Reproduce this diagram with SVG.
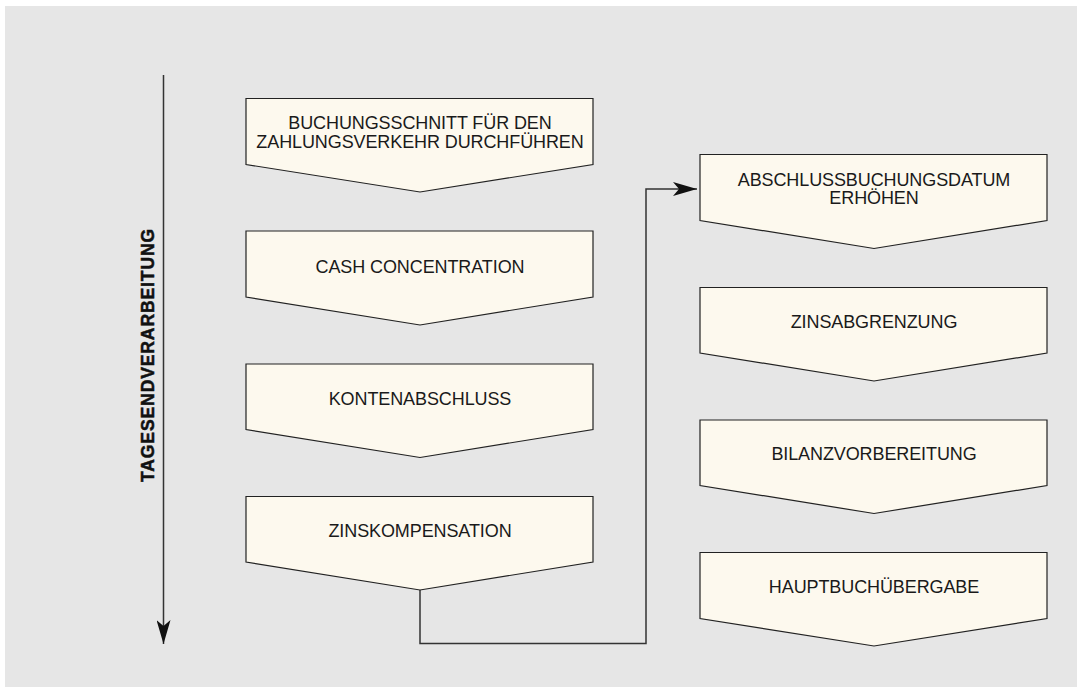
<svg xmlns="http://www.w3.org/2000/svg" width="1077" height="687" viewBox="0 0 1077 687">
  <style>
    .step { fill: #fdf9ee; stroke: #222; stroke-width: 1.2; stroke-linejoin: miter; }
    .label { font-family: "Liberation Sans", Arial, sans-serif; font-size: 18px; letter-spacing: -0.1px; fill: #1a1a1a; text-anchor: middle; }
    .wire { fill: none; stroke: #333; stroke-width: 1.5; }
    .axis-title { font-family: "Liberation Sans", Arial, sans-serif; font-weight: bold; font-size: 17.5px; letter-spacing: 0.9px; fill: #111; stroke: #111; stroke-width: 0.5; text-anchor: middle; }
  </style>
  <defs>
    <marker id="headBig" markerWidth="24" markerHeight="14" refX="24" refY="7" orient="auto" markerUnits="userSpaceOnUse">
      <path d="M0,0 L24,7 L0,14 L6,7 Z" fill="#111"/>
    </marker>
  </defs>

  <!-- panel -->
  <rect x="0" y="0" width="1077" height="687" fill="#ffffff"/>
  <rect x="5" y="6" width="1072" height="681" fill="#e6e6e6"/>

  <!-- time axis -->
  <g id="axis">
    <line x1="163.5" y1="75" x2="163.5" y2="644" stroke="#333" stroke-width="1.5" marker-end="url(#headBig)"/>
    <text class="axis-title" transform="translate(154 355) rotate(-90)">TAGESENDVERARBEITUNG</text>
  </g>

  <!-- connectors -->
  <g id="connectors">
    <path class="wire" d="M420 590 V643.5 H646 V189 H697" marker-end="url(#headBig)"/>
  </g>

  <!-- left column -->
  <g id="node-buchungsschnitt">
    <path class="step" d="M246 98.5 H593 V164.5 L420 192 L246 164.5 Z"/>
    <text class="label" x="420" y="128.5">BUCHUNGSSCHNITT FÜR DEN</text>
    <text class="label" x="420" y="147.5">ZAHLUNGSVERKEHR DURCHFÜHREN</text>
  </g>
  <g id="node-cash-concentration">
    <path class="step" d="M246 231 H593 V297 L420 325 L246 297 Z"/>
    <text class="label" x="420" y="272.5">CASH CONCENTRATION</text>
  </g>
  <g id="node-kontenabschluss">
    <path class="step" d="M246 364 H593 V429.5 L420 457.5 L246 429.5 Z"/>
    <text class="label" x="420" y="404.5">KONTENABSCHLUSS</text>
  </g>
  <g id="node-zinskompensation">
    <path class="step" d="M246 496.5 H593 V562 L420 590 L246 562 Z"/>
    <text class="label" x="420" y="537">ZINSKOMPENSATION</text>
  </g>

  <!-- right column -->
  <g id="node-abschlussbuchungsdatum">
    <path class="step" d="M700 154.5 H1047 V220.5 L874 248.5 L700 220.5 Z"/>
    <text class="label" x="874" y="186">ABSCHLUSSBUCHUNGSDATUM</text>
    <text class="label" x="874" y="204">ERHÖHEN</text>
  </g>
  <g id="node-zinsabgrenzung">
    <path class="step" d="M700 287.5 H1047 V353 L874 381 L700 353 Z"/>
    <text class="label" x="874" y="327.5">ZINSABGRENZUNG</text>
  </g>
  <g id="node-bilanzvorbereitung">
    <path class="step" d="M700 420 H1047 V485.5 L874 513.5 L700 485.5 Z"/>
    <text class="label" x="874" y="460">BILANZVORBEREITUNG</text>
  </g>
  <g id="node-hauptbuchuebergabe">
    <path class="step" d="M700 552.5 H1047 V618.5 L874 646 L700 618.5 Z"/>
    <text class="label" x="874" y="592.5">HAUPTBUCHÜBERGABE</text>
  </g>
</svg>
